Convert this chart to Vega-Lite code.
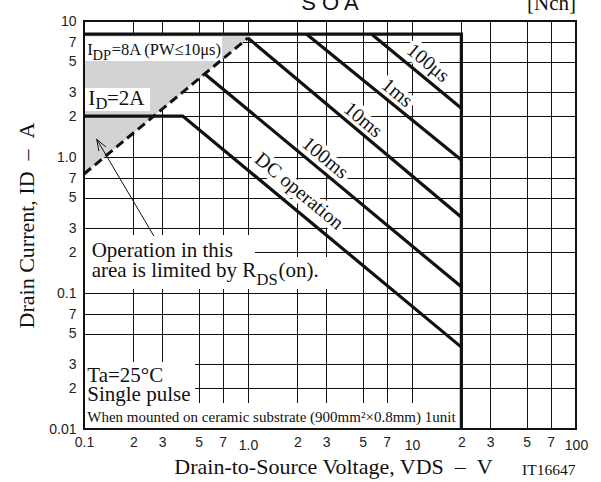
{
  "$schema": "https://vega.github.io/schema/vega-lite/v6.json",
  "width": 492,
  "height": 408,
  "autosize": "none",
  "padding": {"left": 84, "top": 21, "right": 25, "bottom": 53},
  "background": "white",
  "config": {"view": {"stroke": null}},
  "datasets": {
    "gray": [{"x": 0.1, "y": 8, "y2": 0.75}, {"x": 1.067, "y": 8, "y2": 8}],
    "boxes": [
      {"x": 0.1, "x2": 0.694, "y": 7.69, "y2": 5.08},
      {"x": 0.1, "x2": 0.2526, "y": 3.21, "y2": 2.18},
      {"x": 0.1, "x2": 1.103, "y": 0.267, "y2": 0.107},
      {"x": 1.103, "x2": 3.16, "y": 0.184, "y2": 0.107},
      {"x": 0.1, "x2": 0.475, "y": 0.0311, "y2": 0.01},
      {"x": 0.475, "x2": 18.8, "y": 0.0155, "y2": 0.01}
    ],
    "limits": [
      {"seg": "A", "o": 1, "x": 0.1, "y": 8}, {"seg": "A", "o": 2, "x": 20, "y": 8}, {"seg": "A", "o": 3, "x": 20, "y": 0.01},
      {"seg": "B", "o": 1, "x": 0.1, "y": 2}, {"seg": "B", "o": 2, "x": 0.4, "y": 2}, {"seg": "B", "o": 3, "x": 20, "y": 0.04},
      {"seg": "C", "o": 1, "x": 0.545, "y": 4.08}, {"seg": "C", "o": 2, "x": 20, "y": 0.111},
      {"seg": "D", "o": 1, "x": 1.0, "y": 7.5}, {"seg": "D", "o": 2, "x": 20, "y": 0.36},
      {"seg": "E", "o": 1, "x": 2.28, "y": 8}, {"seg": "E", "o": 2, "x": 20, "y": 0.95},
      {"seg": "F", "o": 1, "x": 5.68, "y": 8}, {"seg": "F", "o": 2, "x": 20, "y": 2.28}
    ],
    "rds": [{"o": 1, "x": 0.1, "y": 0.75}, {"o": 2, "x": 1.0, "y": 7.5}],
    "arrow": [
      {"seg": "shaft", "o": 1, "x": 0.1195, "y": 1.35}, {"seg": "shaft", "o": 2, "x": 0.267, "y": 0.262},
      {"seg": "head", "o": 1, "x": 0.136, "y": 1.186}, {"seg": "head", "o": 2, "x": 0.1195, "y": 1.35}, {"seg": "head", "o": 3, "x": 0.1233, "y": 1.105}
    ],
    "frame": [{"x": 0.1, "x2": 100, "y": 10, "y2": 0.01}],
    "rot": [
      {"x": 12.52, "y": 4.91, "t": "100μs"},
      {"x": 8.10, "y": 2.955, "t": "1ms"},
      {"x": 5.02, "y": 1.871, "t": "10ms"},
      {"x": 2.948, "y": 0.983, "t": "100ms"},
      {"x": 2.05, "y": 0.56, "t": "DC operation"}
    ],
    "lbl16": [
      {"x": 0.1047, "y": 5.62, "t": "I"},
      {"x": 0.1475, "y": 5.62, "t": "=8A (PW≤10μs)"}
    ],
    "sub14": [{"x": 0.1127, "y": 5.167, "t": "DP"}],
    "lbl21": [
      {"x": 0.1062, "y": 2.412, "t": "I"},
      {"x": 0.1381, "y": 2.412, "t": "=2A"},
      {"x": 0.1114, "y": 0.1849, "t": "Operation in this"},
      {"x": 0.1114, "y": 0.1318, "t": "area is limited by R"},
      {"x": 1.535, "y": 0.1318, "t": "(on)."},
      {"x": 0.1047, "y": 0.02228, "t": "Ta=25°C"},
      {"x": 0.1047, "y": 0.01607, "t": "Single pulse"}
    ],
    "sub16": [
      {"x": 0.1175, "y": 2.273, "t": "D"},
      {"x": 1.127, "y": 0.1145, "t": "DS"}
    ],
    "lbl15": [{"x": 0.1047, "y": 0.01132, "t": "When mounted on ceramic substrate (900mm²×0.8mm) 1unit"}],
    "soa": [{"x": 3.162, "y": 12.05, "t": "S O A"}],
    "nch": [{"x": 100, "y": 12.05, "t": "[Nch]"}],
    "code": [{"x": 46.85, "y": 0.00459, "t": "IT16647"}]
  },
  "encoding": {
    "x": {
      "field": "x", "type": "quantitative",
      "scale": {"type": "log", "domain": [0.1, 100], "nice": false},
      "axis": {
        "values": [0.1, 0.2, 0.3, 0.5, 0.7, 1, 2, 3, 5, 7, 10, 20, 30, 50, 70, 100],
        "grid": true, "gridColor": "#111", "gridWidth": 1, "gridOpacity": 1,
        "ticks": false, "domain": false,
        "labelFont": "Liberation Sans", "labelFontSize": 14, "labelColor": "#222",
        "labelPadding": {"condition": {"test": "datum.value == 1 || datum.value == 10 || datum.value == 100", "value": 9}, "value": 6},
        "labelOverlap": false, "labelFlush": false, "labelBound": false,
        "labelExpr": "datum.value == 1 ? '1.0' : (abs(log(datum.value)/LN10 - round(log(datum.value)/LN10)) < 0.001 ? format(datum.value, '~g') : '' + round(datum.value / pow(10, floor(log(datum.value)/LN10 + 0.001))))",
        "title": "Drain-to-Source Voltage, VDS\u00a0\u00a0–\u00a0\u00a0V",
        "titleFont": "Liberation Serif", "titleFontSize": 22, "titleFontWeight": "normal", "titleColor": "#111",
        "titleBaseline": "alphabetic", "titleX": 249, "titleY": 44
      }
    },
    "y": {
      "field": "y", "type": "quantitative",
      "scale": {"type": "log", "domain": [0.01, 10], "nice": false},
      "axis": {
        "values": [0.01, 0.02, 0.03, 0.05, 0.07, 0.1, 0.2, 0.3, 0.5, 0.7, 1, 2, 3, 5, 7, 10],
        "grid": true, "gridColor": "#111", "gridWidth": 1, "gridOpacity": 1,
        "ticks": false, "domain": false,
        "labelFont": "Liberation Sans", "labelFontSize": 14, "labelColor": "#222",
        "labelPadding": 8,
        "labelOverlap": false, "labelFlush": false, "labelBound": false,
        "labelExpr": "datum.value == 1 ? '1.0' : (abs(log(datum.value)/LN10 - round(log(datum.value)/LN10)) < 0.001 ? format(datum.value, '~g') : '' + round(datum.value / pow(10, floor(log(datum.value)/LN10 + 0.001))))",
        "title": "Drain Current, ID\u00a0\u00a0–\u00a0\u00a0A",
        "titleFont": "Liberation Serif", "titleFontSize": 22, "titleFontWeight": "normal", "titleColor": "#111",
        "titleBaseline": "alphabetic", "titleX": -51, "titleY": 204
      }
    }
  },
  "layer": [
    {"data": {"name": "gray"}, "mark": {"type": "area", "color": "#d3d3d3", "opacity": 1}, "encoding": {"y2": {"field": "y2"}}},
    {"data": {"name": "boxes"}, "mark": {"type": "rect", "color": "white", "opacity": 1}, "encoding": {"x2": {"field": "x2"}, "y2": {"field": "y2"}}},
    {"data": {"name": "rot"}, "mark": {"type": "text", "font": "Liberation Serif", "fontSize": 20, "angle": 39.66, "align": "center", "baseline": "middle", "fill": "white", "stroke": "white", "strokeWidth": 9, "strokeJoin": "round"}, "encoding": {"text": {"field": "t"}}},
    {"data": {"name": "limits"}, "mark": {"type": "line", "color": "#111", "strokeWidth": 3.2, "strokeCap": "butt", "strokeJoin": "miter"}, "encoding": {"detail": {"field": "seg"}, "order": {"field": "o"}}},
    {"data": {"name": "rds"}, "mark": {"type": "line", "color": "#111", "strokeWidth": 3, "strokeDash": [9, 5]}, "encoding": {"order": {"field": "o"}}},
    {"data": {"name": "arrow"}, "mark": {"type": "line", "color": "#111", "strokeWidth": 1}, "encoding": {"detail": {"field": "seg"}, "order": {"field": "o"}}},
    {"data": {"name": "frame"}, "mark": {"type": "rect", "filled": false, "stroke": "#111", "strokeWidth": 2}, "encoding": {"x2": {"field": "x2"}, "y2": {"field": "y2"}}},
    {"data": {"name": "rot"}, "mark": {"type": "text", "font": "Liberation Serif", "fontSize": 20, "angle": 39.66, "align": "center", "baseline": "middle", "color": "#111"}, "encoding": {"text": {"field": "t"}}},
    {"data": {"name": "lbl16"}, "mark": {"type": "text", "font": "Liberation Serif", "fontSize": 16.5, "align": "left", "baseline": "alphabetic", "color": "#111"}, "encoding": {"text": {"field": "t"}}},
    {"data": {"name": "sub14"}, "mark": {"type": "text", "font": "Liberation Serif", "fontSize": 14.5, "align": "left", "baseline": "alphabetic", "color": "#111"}, "encoding": {"text": {"field": "t"}}},
    {"data": {"name": "lbl21"}, "mark": {"type": "text", "font": "Liberation Serif", "fontSize": 21, "align": "left", "baseline": "alphabetic", "color": "#111"}, "encoding": {"text": {"field": "t"}}},
    {"data": {"name": "sub16"}, "mark": {"type": "text", "font": "Liberation Serif", "fontSize": 16.5, "align": "left", "baseline": "alphabetic", "color": "#111"}, "encoding": {"text": {"field": "t"}}},
    {"data": {"name": "lbl15"}, "mark": {"type": "text", "font": "Liberation Serif", "fontSize": 15, "align": "left", "baseline": "alphabetic", "color": "#111"}, "encoding": {"text": {"field": "t"}}},
    {"data": {"name": "soa"}, "mark": {"type": "text", "font": "Liberation Sans", "fontSize": 22, "align": "center", "baseline": "alphabetic", "color": "#111"}, "encoding": {"text": {"field": "t"}}},
    {"data": {"name": "nch"}, "mark": {"type": "text", "font": "Liberation Serif", "fontSize": 21, "align": "right", "baseline": "alphabetic", "color": "#111"}, "encoding": {"text": {"field": "t"}}},
    {"data": {"name": "code"}, "mark": {"type": "text", "font": "Liberation Serif", "fontSize": 15.5, "align": "left", "baseline": "alphabetic", "color": "#111"}, "encoding": {"text": {"field": "t"}}}
  ]
}
